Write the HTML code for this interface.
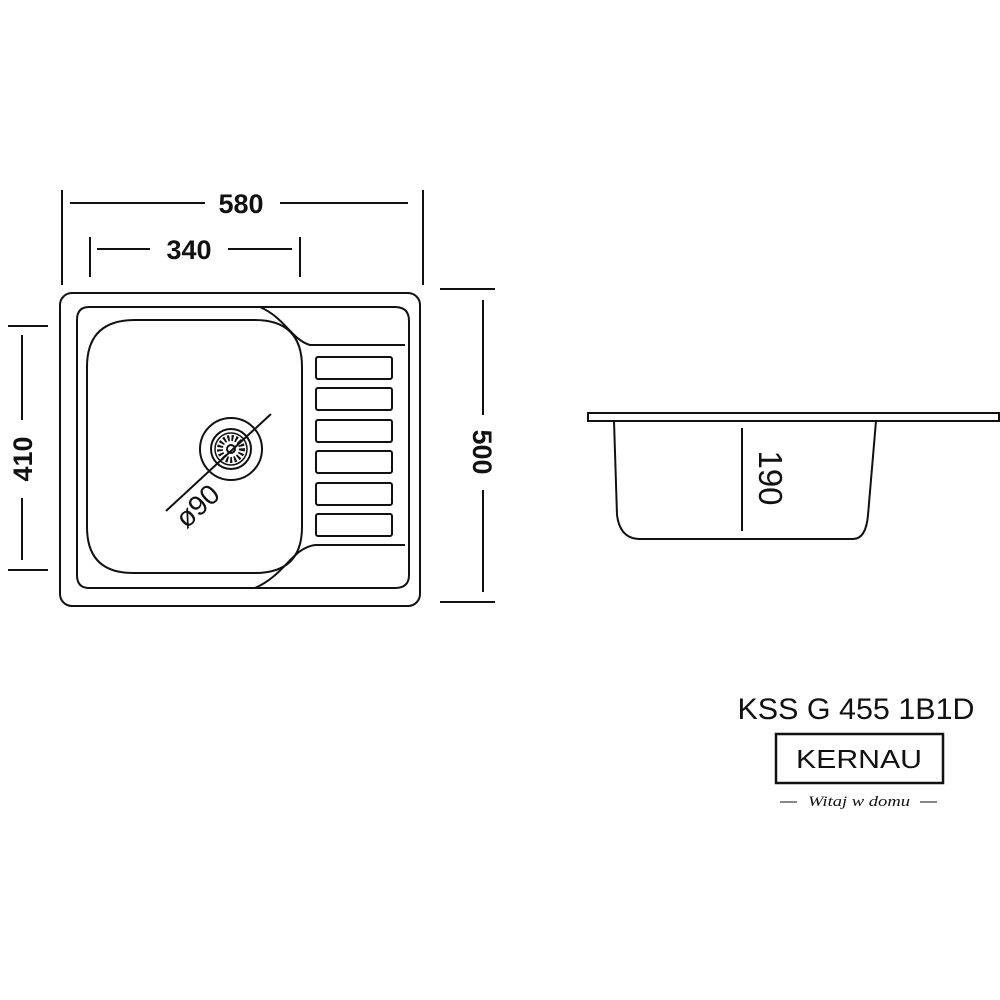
<!DOCTYPE html>
<html><head><meta charset="utf-8"><style>
html,body{margin:0;padding:0;background:#fff;}
svg{display:block;}
</style></head><body>
<svg width="1000" height="1000" viewBox="0 0 1000 1000" xmlns="http://www.w3.org/2000/svg">
<g fill="none" stroke="#111" stroke-width="2">
<line x1="62" y1="190" x2="62" y2="285"/>
<line x1="423" y1="190" x2="423" y2="285"/>
<line x1="70" y1="203" x2="205" y2="203"/>
<line x1="280" y1="203" x2="408" y2="203"/>
<line x1="90" y1="237" x2="90" y2="277"/>
<line x1="300" y1="237" x2="300" y2="277"/>
<line x1="97" y1="249" x2="150" y2="249"/>
<line x1="228" y1="249" x2="292" y2="249"/>
<line x1="8" y1="326" x2="48" y2="326"/>
<line x1="8" y1="570" x2="48" y2="570"/>
<line x1="22" y1="335" x2="22" y2="420"/>
<line x1="22" y1="498" x2="22" y2="560"/>
<line x1="440" y1="289" x2="495" y2="289"/>
<line x1="440" y1="602" x2="495" y2="602"/>
<line x1="483" y1="300" x2="483" y2="415"/>
<line x1="483" y1="490" x2="483" y2="592"/>
<rect x="60" y="293" width="360" height="313" rx="12"/>
<path d="M260,307 C285,318 292,340 310,345 L405,345"/>
<path d="M255,588 C285,575 292,548 315,545 L405,545"/>
<path d="M260,307 L89,307 Q77,307 77,320 L77,575 Q77,588 89,588 L255,588"/>
<path d="M260,307 L395,307 Q409,307 409,321 L409,575 Q409,588 395,588 L255,588"/>
<path d="M135,320 L255,320 Q302,320 302,367 L302,527 Q302,573 255,573 L133,573 Q87,573 87,527 L87,367 Q87,320 135,320 Z"/>
<rect x="316" y="357" width="76" height="22" rx="2"/>
<rect x="316" y="388" width="76" height="22" rx="2"/>
<rect x="316" y="420" width="76" height="22" rx="2"/>
<rect x="316" y="451" width="76" height="22" rx="2"/>
<rect x="316" y="483" width="76" height="22" rx="2"/>
<rect x="316" y="514" width="76" height="22" rx="2"/>
<circle cx="231" cy="449" r="31"/>
<circle cx="231" cy="449" r="20"/>
<circle cx="231" cy="449" r="16" stroke-width="1.5"/>
<circle cx="231" cy="449" r="11" stroke-width="6" stroke-dasharray="2 2"/>
<circle cx="231" cy="449" r="4"/>
<line x1="166" y1="511" x2="271" y2="414"/>
<rect x="588" y="413" width="411" height="8"/>
<path d="M614,421 L617,515 Q620,539 640,539 L853,539 Q866,539 868,515 L876,421"/>
<line x1="742" y1="428" x2="742" y2="531"/>
<rect x="776" y="734" width="167" height="49" stroke-width="2.5"/>
<line x1="780" y1="802" x2="797" y2="802" stroke-width="1"/>
<line x1="920" y1="802" x2="937" y2="802" stroke-width="1"/>
</g>
<g font-family="'Liberation Sans',sans-serif" fill="#111" text-anchor="middle">
<text x="241" y="213" font-size="27" font-weight="bold">580</text>
<text x="189" y="259" font-size="27" font-weight="bold">340</text>
<text transform="translate(32,459) rotate(-90)" font-size="27" font-weight="bold">410</text>
<text transform="translate(473,452) rotate(90)" font-size="27" font-weight="bold">500</text>
<text transform="translate(204,513) rotate(-43)" font-size="28">ø90</text>
<text transform="translate(759,478) rotate(90)" font-size="33">190</text>
<text x="856" y="719" font-size="30" textLength="237" lengthAdjust="spacingAndGlyphs">KSS G 455 1B1D</text>
<text x="859" y="768" font-size="26" textLength="126" lengthAdjust="spacingAndGlyphs">KERNAU</text>
<text x="859" y="806" font-size="15" font-family="'Liberation Serif',serif" font-style="italic" textLength="102" lengthAdjust="spacingAndGlyphs">Witaj w domu</text>
</g>
</svg>
</body></html>
